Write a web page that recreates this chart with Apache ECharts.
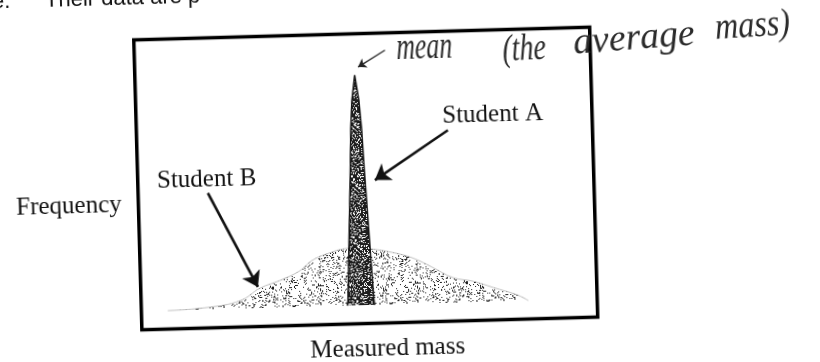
<!DOCTYPE html>
<html>
<head>
<meta charset="utf-8">
<script src="https://cdn.jsdelivr.net/npm/echarts@6/dist/echarts.min.js"></script>
<style>
html,body{margin:0;padding:0;background:#fff;overflow:hidden;width:820px;height:362px}
#chart{position:absolute;left:-30px;top:-30px;width:880px;height:422px;transform:rotate(-1.6deg);transform-origin:395.75px 208.5px;}
</style>
</head>
<body>
<div id="chart"></div>
<script>
// Student B: wide distribution (measured mass, frequency)
const massB = [5.8, 14.5, 21.8, 26.2, 30.5, 34.9, 37.7, 40.8, 45.2, 48.0, 50.9, 55.3, 59.7, 64.1, 68.5, 72.9, 77.3, 82.5, 84.9];
const freqB = [0, 0.9, 3.5, 8.7, 11.7, 15.6, 20.0, 22.6, 24.8, 25.0, 24.3, 22.6, 20.0, 15.6, 10.9, 9.1, 6.1, 2.6, 0];
// Student A: narrow distribution
const massA = [45.2, 45.35, 46.0, 46.67, 47.0, 47.43, 48.2, 48.97, 49.4, 49.73, 50.4, 51.05, 51.2];
const freqA = [0, 2, 30, 59, 76, 89, 100, 89, 76, 59, 30, 2, 0];
// axis ranges
const massRange = [0, 100];
const freqRange = [-8, 118];
// annotation arrows [fromMass, fromFreq, toMass, toFreq]
const arrowA = [68.3, 75.0, 52.0, 54.2];
const arrowB = [15.3, 50.6, 25.7, 9.2];
const arrowMean = [55.0, 110.5, 49.0, 103.5];
// texts
const xName = 'Measured mass';
const yName = 'Frequency';
const nameA = 'Student A';
const nameB = 'Student B';
const meanWords = ['mean', '(the', 'average', 'mass)'];
const topText = ['e.', 'Their data are p'];

const pairs = (xs, ys) => xs.map((x, i) => [x, ys[i]]);
const serif = '"Liberation Serif", "Times New Roman", serif';
const sans = '"Liberation Sans", Arial, sans-serif';

// stippled texture (deterministic hash dot pattern, purely decorative)
function stipple(density, size) {
  const c = document.createElement('canvas');
  c.width = size; c.height = size;
  const ctx = c.getContext('2d');
  const img = ctx.createImageData(size, size);
  for (let j = 0; j < size; j++) {
    for (let i = 0; i < size; i++) {
      let h = (Math.imul(i + 1, 73856093) ^ Math.imul(j + 1, 19349663) ^ Math.imul(i * j + 7, 83492791)) >>> 0;
      h = (h ^ (h >>> 13)) >>> 0;
      const on = (h % 1000) < density * 1000;
      const k = (j * size + i) * 4;
      const v = on ? 30 : 255;
      img.data[k] = v; img.data[k + 1] = v; img.data[k + 2] = v; img.data[k + 3] = 255;
    }
  }
  ctx.putImageData(img, 0, 0);
  return c;
}
const texB = stipple(0.16, 97);
const texA = stipple(0.74, 61);

const chart = echarts.init(document.getElementById('chart'), null, {renderer: 'canvas'});
chart.setOption({
  animation: false,
  backgroundColor: 'transparent',
  grid: {left: 167.75, top: 63.5, right: 256.25, bottom: 68.5, show: true, borderColor: '#000', borderWidth: 3.5, backgroundColor: 'transparent'},
  xAxis: {type: 'value', min: massRange[0], max: massRange[1], axisLine: {show: false}, axisTick: {show: false}, axisLabel: {show: false}, splitLine: {show: false}},
  yAxis: {type: 'value', min: freqRange[0], max: freqRange[1], axisLine: {show: false}, axisTick: {show: false}, axisLabel: {show: false}, splitLine: {show: false}},
  series: [
    {
      name: nameB, type: 'line', smooth: 0.4, symbol: 'none',
      data: pairs(massB, freqB),
      lineStyle: {color: '#b0b0b0', width: 0.8},
      areaStyle: {color: {image: texB, repeat: 'repeat'}, opacity: 1},
      markLine: {
        silent: true, symbol: ['none', 'arrow'], symbolSize: 15,
        label: {show: false},
        lineStyle: {color: '#111', width: 2.6, type: 'solid'},
        data: [
          [{coord: [arrowA[0], arrowA[1]]}, {coord: [arrowA[2], arrowA[3]]}],
          [{coord: [arrowB[0], arrowB[1]]}, {coord: [arrowB[2], arrowB[3]]}]
        ]
      },
      z: 2
    },
    {
      name: nameA, type: 'line', smooth: false, symbol: 'none',
      data: pairs(massA, freqA),
      lineStyle: {color: '#151515', width: 1.5},
      areaStyle: {color: {image: texA, repeat: 'repeat'}, opacity: 1},
      markLine: {
        silent: true, symbol: ['none', 'arrow'], symbolSize: 8,
        label: {show: false},
        lineStyle: {color: '#222', width: 1.3, type: 'solid'},
        data: [
          [{coord: [arrowMean[0], arrowMean[1]]}, {coord: [arrowMean[2], arrowMean[3]]}]
        ]
      },
      z: 3
    }
  ],
  graphic: [
    {type: 'text', x: 474, y: 148.5, style: {text: nameA, font: '25px ' + serif, fill: '#111', textAlign: 'left', textVerticalAlign: 'middle'}},
    {type: 'text', x: 187, y: 205.5, style: {text: nameB, font: '25px ' + serif, fill: '#111', textAlign: 'left', textVerticalAlign: 'middle'}},
    {type: 'text', x: 151, y: 228.5, style: {text: yName, font: '25px ' + serif, fill: '#111', textAlign: 'right', textVerticalAlign: 'middle'}},
    {type: 'text', x: 413, y: 379, style: {text: xName, font: '25px ' + serif, fill: '#111', textAlign: 'center', textVerticalAlign: 'middle'}},
    {type: 'text', x: 27, y: 21.6, style: {text: topText[0], font: '22px ' + sans, fill: '#111', textAlign: 'left', textVerticalAlign: 'middle'}},
    {type: 'text', x: 80, y: 21.6, style: {text: topText[1], font: '22px ' + sans, fill: '#111', textAlign: 'left', textVerticalAlign: 'middle'}},
    {type: 'text', x: 430, y: 79.8, scaleX: 0.92, scaleY: 1.35, rotation: 0.0, style: {text: meanWords[0], font: 'italic 28px ' + serif, fill: '#2a2a2a', textAlign: 'left', textVerticalAlign: 'middle'}},
    {type: 'text', x: 536, y: 84.6, scaleX: 1.0, scaleY: 1.35, rotation: 0.02, style: {text: meanWords[1], font: 'italic 28px ' + serif, fill: '#2a2a2a', textAlign: 'left', textVerticalAlign: 'middle'}},
    {type: 'text', x: 607, y: 79.7, scaleX: 1.35, scaleY: 1.35, rotation: 0.05, style: {text: meanWords[2], font: 'italic 28px ' + serif, fill: '#2a2a2a', textAlign: 'left', textVerticalAlign: 'middle'}},
    {type: 'text', x: 749, y: 68.9, scaleX: 1.15, scaleY: 1.35, rotation: 0.04, style: {text: meanWords[3], font: 'italic 28px ' + serif, fill: '#2a2a2a', textAlign: 'left', textVerticalAlign: 'middle'}}
  ]
});
</script>
</body>
</html>
